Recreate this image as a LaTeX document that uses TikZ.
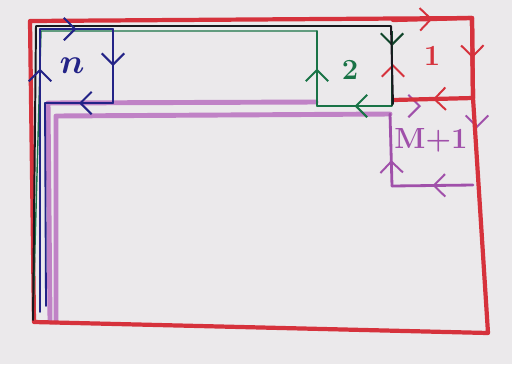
\documentclass[tikz,border=0pt]{standalone}
\usetikzlibrary{arrows.meta,decorations.markings}
\definecolor{paper}{RGB}{235,233,235}
\definecolor{penred}{RGB}{214,50,60}
\definecolor{penblue}{RGB}{35,35,135}
\definecolor{pengreen}{RGB}{25,115,70}
\definecolor{penpurple}{RGB}{160,80,170}
\definecolor{palepurple}{RGB}{192,130,198}
\definecolor{penblack}{RGB}{25,25,30}
\begin{document}
\begin{tikzpicture}[x=0.025cm,y=-0.025cm,
    chev/.style={postaction={decorate},decoration={markings,
      mark=at position #1 with {\arrow{Straight Barb[length=8pt,width=16pt,line width=1.4pt]}}}},
    chev/.default=0.5,
    redline/.style={penred,line width=3pt,line cap=round,line join=round},
    blackline/.style={penblack,line width=1.4pt,line cap=round,line join=round},
    blueline/.style={penblue,line width=1.3pt,line cap=round,line join=round},
    greenline/.style={pengreen,line width=1pt,line cap=round,line join=round},
    purpleline/.style={palepurple,line width=3.5pt,line cap=round,line join=round},
    boxline/.style={penpurple,line width=2pt,line cap=round,line join=round}]
    \fill[paper] (0,0) rectangle (512,364);
    % corners
    \coordinate (R1) at (30,21);
    \coordinate (R2) at (472,18);
    \coordinate (R3) at (473,98);
    \coordinate (R4) at (488,333);
    \coordinate (R5) at (34,322);
    \coordinate (T1) at (393,20);
    \coordinate (C1) at (393,100);
    \coordinate (K1) at (33,320);
    \coordinate (K2) at (36,26);
    \coordinate (K3) at (391,26);
    \coordinate (K4) at (393,104);
    \coordinate (N1) at (40,29);
    \coordinate (N2) at (113,29);
    \coordinate (N3) at (113,103);
    \coordinate (N4) at (45,103);
    \coordinate (N5) at (46,306);
    \coordinate (N6) at (40,312);
    \coordinate (G1) at (392,106);
    \coordinate (G2) at (317,106);
    \coordinate (G3) at (317,31);
    \coordinate (G4) at (392,31);
    \coordinate (G5) at (41,31);
    \coordinate (G6) at (33,318);
    \coordinate (P1) at (390,114);
    \coordinate (P2) at (56,116);
    \coordinate (P3) at (56,322);
    \coordinate (P4) at (316,102);
    \coordinate (P5) at (48,103);
    \coordinate (P6) at (50,320);
    \coordinate (P7) at (392,186);
    \coordinate (P8) at (473,185);
    % M+1
    \draw[purpleline] (P4)--(P5)--(P6);
    \draw[purpleline] (P1)--(P2)--(P3);
    \draw[boxline,chev=0.36] (P7)--(P1);
    \draw[boxline,chev] (P8)--(P7);
    \path[penpurple,line width=2pt,chev=0.35] (393,106)--(473,106);
    \path[penpurple,line width=2pt,chev=0.28] (477,106)--(477,185);
    % 1
    \draw[redline] (R1)--(R2)--(R3)--(R4)--(R5)--cycle;
    \draw[redline,chev] (T1)--(R2);
    \draw[redline,chev] (R2)--(R3);
    \draw[redline,chev] (R3)--(C1);
    \path[penred,line width=2.5pt,chev=0.45] (C1)--(T1);
    % 2
    \draw[greenline,chev] (G1)--(G2);
    \draw[greenline,chev] (G2)--(G3);
    \draw[greenline] (G3)--(G5)--(G6);
    \draw[pengreen!60!black,line width=1.2pt,chev=0.2] (G4)--(G1);
    \draw[blackline] (K1)--(K2)--(K3)--(K4);
    % n
    \draw[blueline,chev] (N2)--(N3);
    \draw[blueline,chev] (N3)--(N4);
    \draw[blueline] (N4)--(N5);
    \draw[blueline,chev=0.86] (N6)--(N1);
    \draw[blueline,chev] (N1)--(N2);
    \node[penblue,font=\Huge\boldmath] (lbln) at (72,66) {$n$};
    \node[pengreen,font=\huge\bfseries] (lbltwo) at (350,70) {2};
    \node[penred,font=\huge\bfseries] (lblone) at (432,56) {1};
    \node[penpurple,font=\huge\bfseries] (lblm) at (431,140) {M+1};
\end{tikzpicture}
\end{document}
